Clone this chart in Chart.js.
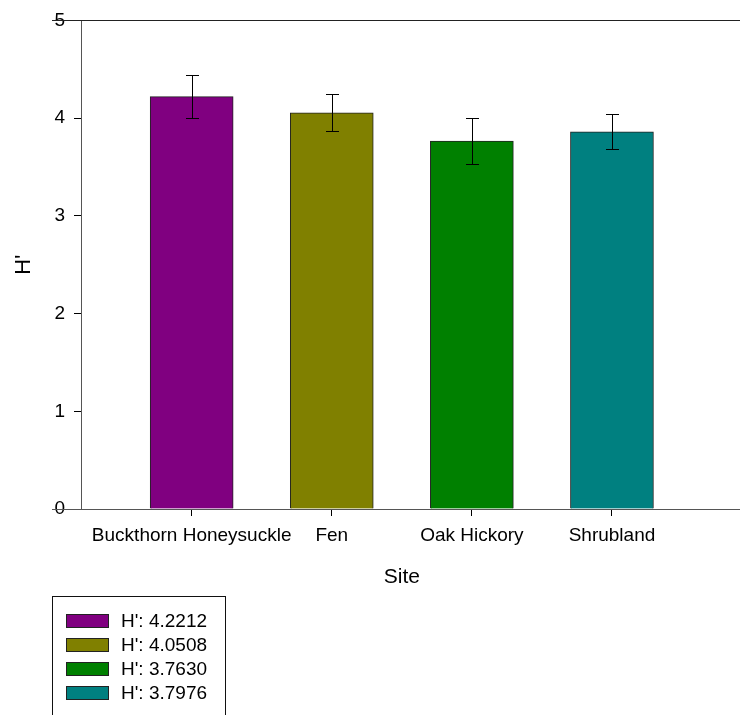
<!DOCTYPE html>
<html>
<head>
<meta charset="utf-8">
<script src="https://cdn.jsdelivr.net/npm/chart.js@4.4.0/dist/chart.umd.min.js"></script>
<style>
  html, body { margin: 0; padding: 0; background: #fff; overflow: hidden; }
  #wrap { position: relative; width: 740px; height: 715px; }
  #legend {
    position: absolute; left: 52px; top: 596px; width: 174px; height: 140px;
    border: 1px solid #111; box-sizing: border-box;
    font-family: 'Liberation Sans', Arial, sans-serif; font-size: 19px; color: #000;
  }
  .row { position: absolute; left: 13px; height: 14px; display: flex; align-items: center; white-space: nowrap; }
  .sw { width: 41px; height: 12px; border: 1px solid #222; margin-right: 12px; }
</style>
</head>
<body>
<div id="wrap">
  <canvas id="chart" width="740" height="715"></canvas>
  <div id="legend"></div>
</div>
<script>
// --- DATA ---
const categories = ['Buckthorn Honeysuckle', 'Fen', 'Oak Hickory', 'Shrubland'];
const hValues = [4.22, 4.055, 3.765, 3.86];
const hErrors = [0.223, 0.187, 0.237, 0.178];
const barColors = ['#800080', '#808000', '#008000', '#008080'];
const legendLabels = ["H': 4.2212", "H': 4.0508", "H': 3.7630", "H': 3.7976"];
const yTicks = [0, 1, 2, 3, 4, 5];

const FONT = "'Liberation Sans', Arial, sans-serif";

// legend (HTML box, bottom edge runs off the page like the original)
const legendEl = document.getElementById('legend');
legendLabels.forEach((txt, i) => {
    const row = document.createElement('div');
    row.className = 'row';
    row.style.top = (17 + i * 24) + 'px';
    row.innerHTML = `<span class="sw" style="background:${barColors[i]}"></span><span>${txt}</span>`;
    legendEl.appendChild(row);
});

// error bars + frame bits + x title
const extrasPlugin = {
    id: 'extras',
    afterDatasetsDraw(chart) {
        const ctx = chart.ctx;
        const y = chart.scales.y;
        const meta = chart.getDatasetMeta(0);
        ctx.save();
        ctx.strokeStyle = '#000';
        ctx.lineWidth = 1;
        meta.data.forEach((bar, i) => {
            const x = Math.round(bar.x) + 0.5;
            const top = Math.round(y.getPixelForValue(hValues[i] + hErrors[i])) + 0.5;
            const bot = Math.round(y.getPixelForValue(hValues[i] - hErrors[i])) + 0.5;
            ctx.beginPath();
            ctx.moveTo(x, top); ctx.lineTo(x, bot);
            ctx.moveTo(x - 6.5, top); ctx.lineTo(x + 6.5, top);
            ctx.moveTo(x - 6.5, bot); ctx.lineTo(x + 6.5, bot);
            ctx.stroke();
        });
        ctx.restore();
    },
    afterDraw(chart) {
        const ctx = chart.ctx;
        const a = chart.chartArea;
        ctx.save();
        ctx.lineWidth = 1;
        ctx.strokeStyle = '#222';
        ctx.beginPath();
        ctx.moveTo(a.left - 29, Math.round(a.top) + 0.5);
        ctx.lineTo(a.right, Math.round(a.top) + 0.5);
        ctx.stroke();
        ctx.strokeStyle = '#555';
        ctx.beginPath();
        ctx.moveTo(a.left - 29, Math.round(a.bottom) + 0.5);
        ctx.lineTo(a.left, Math.round(a.bottom) + 0.5);
        ctx.stroke();
        // x axis title, centred on the category span
        ctx.fillStyle = '#000';
        ctx.font = '21px ' + FONT;
        ctx.textAlign = 'center';
        ctx.textBaseline = 'middle';
        ctx.fillText('Site', chart.scales.x.getPixelForValue((categories.length - 1) / 2), 577);
        ctx.restore();
    }
};

new Chart(document.getElementById('chart'), {
    type: 'bar',
    data: {
        datasets: [{
            data: categories.map((c, i) => ({ x: i, y: hValues[i] })),
            backgroundColor: barColors,
            borderColor: '#222',
            borderWidth: 1,
            barThickness: 83
        }]
    },
    options: {
        responsive: false,
        animation: false,
        layout: { padding: { top: 19, left: 0, right: 0, bottom: 146 } },
        plugins: { legend: { display: false }, tooltip: { enabled: false } },
        scales: {
            x: {
                type: 'linear',
                min: -0.79,
                max: 3.914,
                offset: false,
                afterBuildTicks: (s) => { s.ticks = categories.map((c, i) => ({ value: i })); },
                afterFit: (s) => { s.height = 60; },
                ticks: {
                    autoSkip: false, maxRotation: 0, padding: 8, color: '#000',
                    font: { family: FONT, size: 19 },
                    callback: (v) => categories[v]
                },
                grid: { drawOnChartArea: false, offset: false, tickLength: 7, color: '#000' },
                border: { color: '#555' }
            },
            y: {
                min: 0,
                max: 5,
                afterBuildTicks: (s) => { s.ticks = yTicks.map(v => ({ value: v })); },
                afterFit: (s) => { s.width = 81; },
                ticks: { padding: 9, color: '#000', font: { family: FONT, size: 19 } },
                grid: { drawOnChartArea: false, tickLength: 7, color: '#000' },
                border: { color: '#555' },
                title: { display: true, text: "H'", color: '#000', font: { family: FONT, size: 22 }, padding: { top: 11, bottom: 0 } }
            }
        }
    },
    plugins: [extrasPlugin]
});
</script>
</body>
</html>
